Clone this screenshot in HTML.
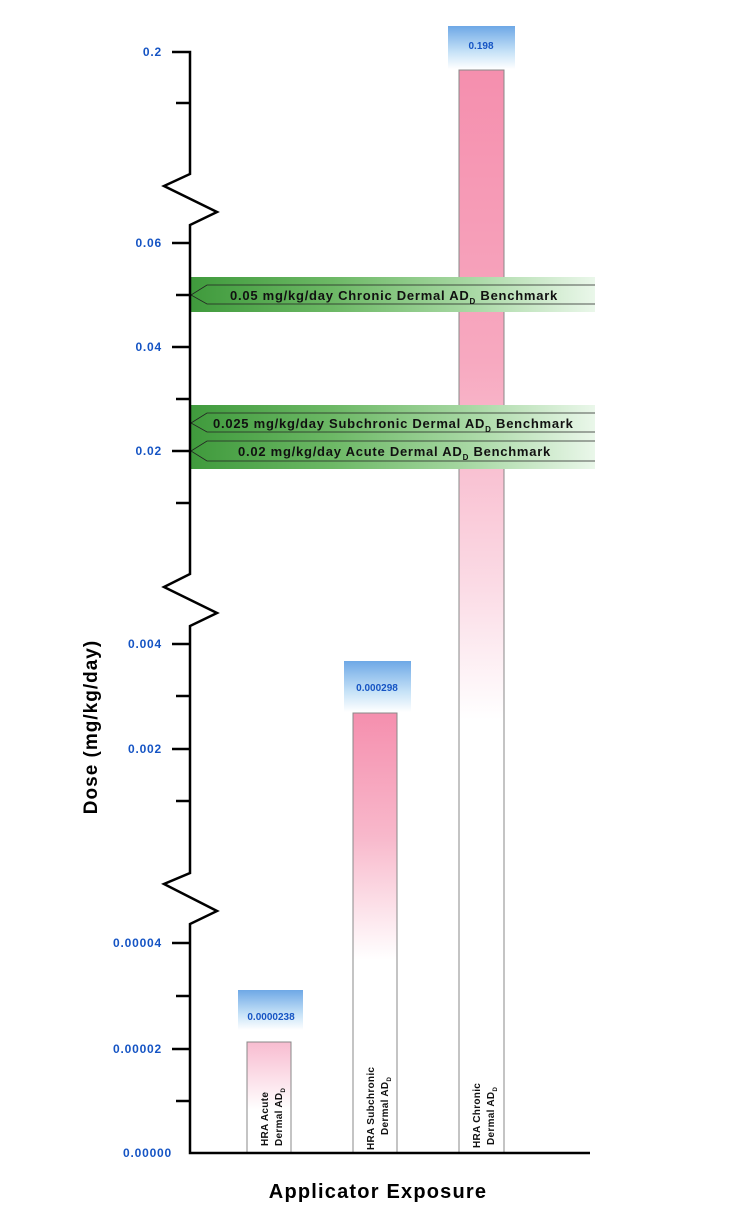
<!DOCTYPE html>
<html><head><meta charset="utf-8"><style>
html,body{margin:0;padding:0;background:#fff;}
svg{display:block;}
text{font-family:"Liberation Sans",Arial,sans-serif;font-weight:bold;}
</style></head><body>
<svg width="743" height="1220" viewBox="0 0 743 1220" xmlns="http://www.w3.org/2000/svg">
<defs>
<linearGradient id="pc" x1="0" y1="70" x2="0" y2="720" gradientUnits="userSpaceOnUse">
<stop offset="0" stop-color="#f58fae"/><stop offset="0.45" stop-color="#f7a9c0"/><stop offset="0.8" stop-color="#fbdce6"/><stop offset="1" stop-color="#fff"/></linearGradient>
<linearGradient id="ps" x1="0" y1="713" x2="0" y2="960" gradientUnits="userSpaceOnUse">
<stop offset="0" stop-color="#f58fae"/><stop offset="0.5" stop-color="#f8b8cb"/><stop offset="1" stop-color="#fff"/></linearGradient>
<linearGradient id="pa" x1="0" y1="1042" x2="0" y2="1110" gradientUnits="userSpaceOnUse">
<stop offset="0" stop-color="#f8bcd0"/><stop offset="1" stop-color="#fff"/></linearGradient>
<linearGradient id="bl" x1="0" y1="0" x2="0" y2="1">
<stop offset="0" stop-color="#6ea8e6"/><stop offset="0.6" stop-color="#c6e2f7"/><stop offset="1" stop-color="#fff"/></linearGradient>
<linearGradient id="gr" x1="190" y1="0" x2="595" y2="0" gradientUnits="userSpaceOnUse">
<stop offset="0" stop-color="#3f9a3c"/><stop offset="0.35" stop-color="#6cb865"/><stop offset="0.7" stop-color="#a9d9a5"/><stop offset="1" stop-color="#eaf7ea"/></linearGradient>
</defs>

<rect x="459" y="70" width="45" height="1083" fill="url(#pc)" stroke="#888" stroke-width="1"/>
<rect x="353" y="713" width="44" height="440" fill="url(#ps)" stroke="#888" stroke-width="1"/>
<rect x="247" y="1042" width="44" height="111" fill="url(#pa)" stroke="#888" stroke-width="1"/>

<rect x="448" y="26" width="67" height="43" fill="url(#bl)"/>
<text x="481" y="49" font-size="10" fill="#1554c4" text-anchor="middle">0.198</text>
<rect x="344" y="661" width="67" height="51" fill="url(#bl)"/>
<text x="377" y="691" font-size="10" fill="#1554c4" text-anchor="middle">0.000298</text>
<rect x="238" y="990" width="65" height="40" fill="url(#bl)"/>
<text x="271" y="1020" font-size="10" fill="#1554c4" text-anchor="middle">0.0000238</text>

<rect x="190" y="277" width="405" height="35" fill="url(#gr)"/>
<rect x="190" y="405" width="405" height="64" fill="url(#gr)"/>
<g fill="none" stroke="#222" stroke-width="0.8">
<polyline points="595,285 207,285 191,295 207,304 595,304"/>
<polyline points="595,413 207,413 191,423 207,432 595,432"/>
<polyline points="595,441 207,441 191,451 207,461 595,461"/>
</g>
<g font-size="13" fill="#111" letter-spacing="0.75">
<text x="230" y="300">0.05 mg/kg/day Chronic Dermal AD<tspan font-size="8" dy="4">D</tspan><tspan dy="-4"> Benchmark</tspan></text>
<text x="213" y="428">0.025 mg/kg/day Subchronic Dermal AD<tspan font-size="8" dy="4">D</tspan><tspan dy="-4"> Benchmark</tspan></text>
<text x="238" y="456">0.02 mg/kg/day Acute Dermal AD<tspan font-size="8" dy="4">D</tspan><tspan dy="-4"> Benchmark</tspan></text>
</g>

<g fill="none" stroke="#000" stroke-width="2.5">
<polyline points="172,52 190,52 190,174 164,186 217,212 190,225 190,574 164,587 217,613 190,626 190,873 164,884 217,911 190,924 190,1153 590,1153"/>
<line x1="172" y1="243" x2="190" y2="243"/>
<line x1="172" y1="347" x2="190" y2="347"/>
<line x1="172" y1="451" x2="190" y2="451"/>
<line x1="172" y1="644" x2="190" y2="644"/>
<line x1="172" y1="749" x2="190" y2="749"/>
<line x1="172" y1="943" x2="190" y2="943"/>
<line x1="172" y1="1049" x2="190" y2="1049"/>
<line x1="176" y1="103" x2="190" y2="103"/>
<line x1="176" y1="295" x2="190" y2="295"/>
<line x1="176" y1="399" x2="190" y2="399"/>
<line x1="176" y1="503" x2="190" y2="503"/>
<line x1="176" y1="696" x2="190" y2="696"/>
<line x1="176" y1="801" x2="190" y2="801"/>
<line x1="176" y1="996" x2="190" y2="996"/>
<line x1="176" y1="1101" x2="190" y2="1101"/>
</g>
<g font-size="12" fill="#1554c4" text-anchor="end" letter-spacing="0.8">
<text x="162" y="56">0.2</text>
<text x="162" y="247">0.06</text>
<text x="162" y="351">0.04</text>
<text x="162" y="455">0.02</text>
<text x="162" y="648">0.004</text>
<text x="162" y="753">0.002</text>
<text x="162" y="947">0.00004</text>
<text x="162" y="1053">0.00002</text>
<text x="172" y="1157">0.00000</text>
</g>

<g font-size="10" fill="#111" letter-spacing="0.3">
<text transform="translate(268,1146) rotate(-90)">HRA Acute</text>
<text transform="translate(282,1146) rotate(-90)">Dermal AD<tspan font-size="6" dy="3">D</tspan></text>
<text transform="translate(374,1150) rotate(-90)">HRA Subchronic</text>
<text transform="translate(388,1135) rotate(-90)">Dermal AD<tspan font-size="6" dy="3">D</tspan></text>
<text transform="translate(480,1148) rotate(-90)">HRA Chronic</text>
<text transform="translate(494,1145) rotate(-90)">Dermal AD<tspan font-size="6" dy="3">D</tspan></text>
</g>

<text transform="translate(97,727) rotate(-90)" font-size="19" fill="#000" text-anchor="middle" letter-spacing="1">Dose (mg/kg/day)</text>
<text x="378" y="1198" font-size="20" fill="#000" text-anchor="middle" letter-spacing="1.2">Applicator Exposure</text>
</svg>
</body></html>
